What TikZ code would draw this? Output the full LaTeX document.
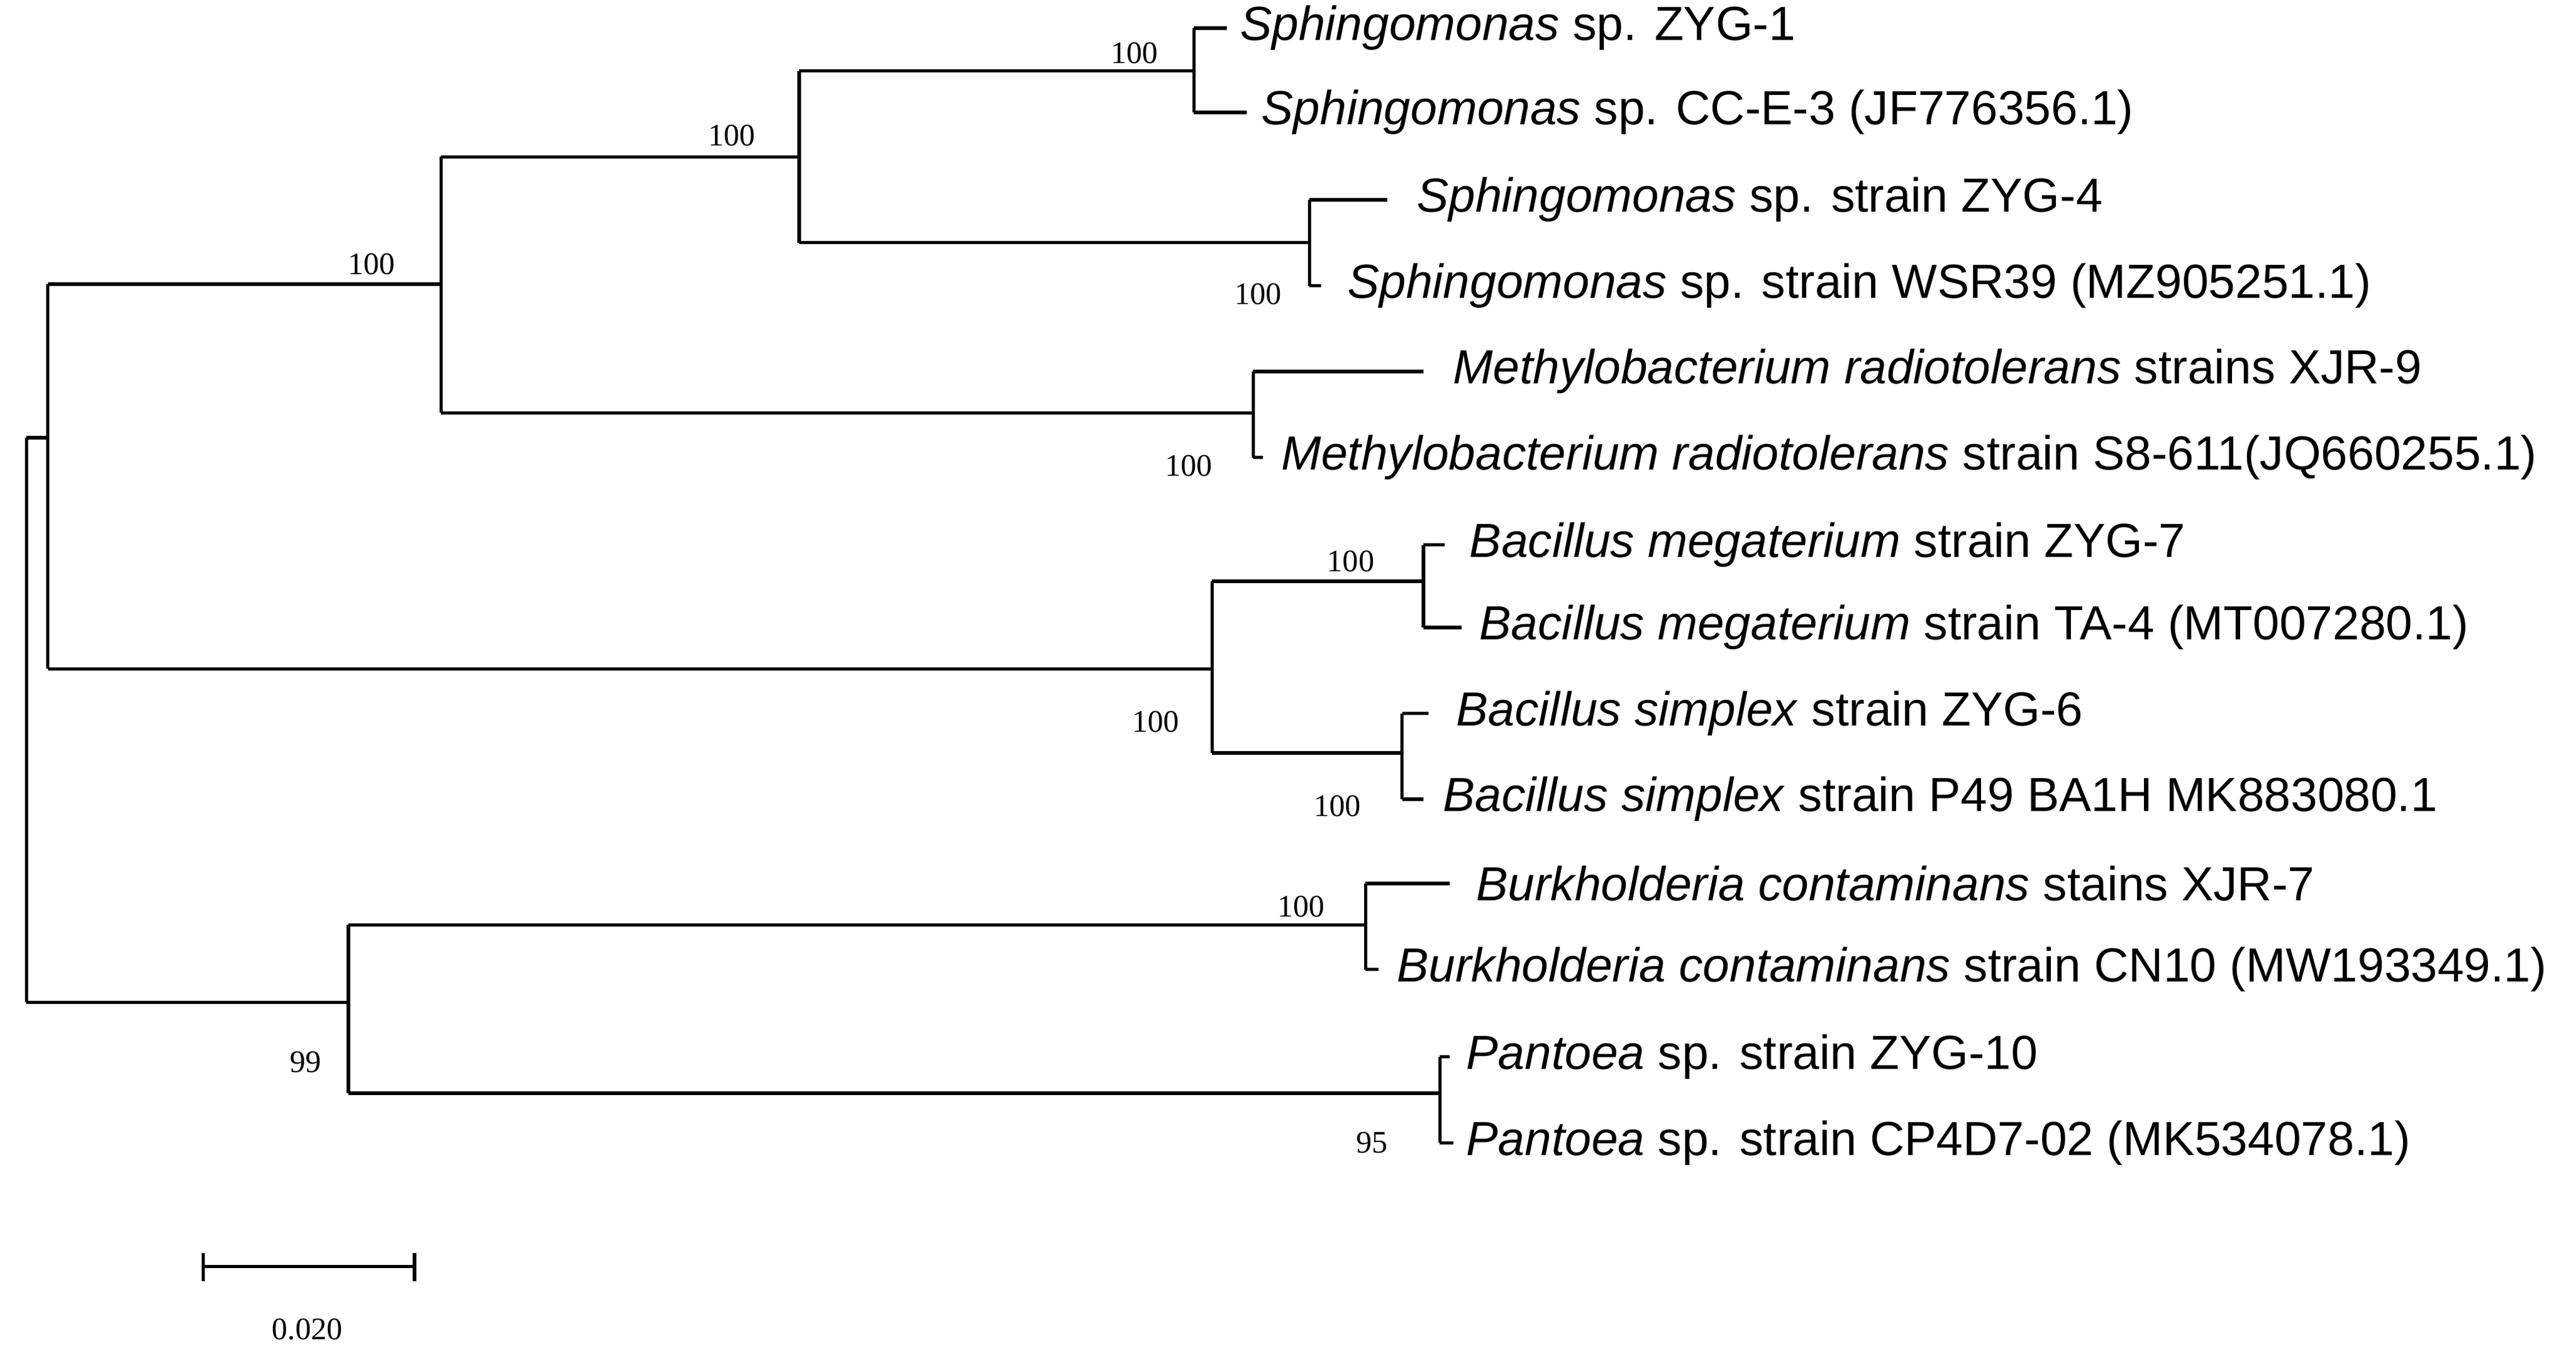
\documentclass[tikz,border=0pt]{standalone}
\usepackage{fontspec}
\setmainfont{Liberation Sans}
\newfontfamily\tnr{Liberation Serif}
\begin{document}
\begin{tikzpicture}[x=1pt,y=-1pt,line width=2pt,
  leaf/.style={anchor=west,inner sep=0pt,font=\fontsize{29}{32}\selectfont},
  boot/.style={inner sep=0pt,font=\tnr\fontsize{19}{22}\selectfont}]
\useasboundingbox (0,0) rectangle (1560,822);
% root
\draw (16,265) -- (16,607);
\draw (16,265) -- (29,265);
\draw (29,172) -- (29,405);
\draw (16,607) -- (211,607);
% Upper clade
\draw (29,172) -- (267,172);
\draw (267,95) -- (267,250);
\node[boot] at (225,160) {100};
\draw (267,95) -- (484,95);
\draw (484,43) -- (484,147);
\node[boot] at (443,82) {100};
\draw (484,43) -- (723,43);
\draw (723,17) -- (723,68);
\node[boot] at (687,32) {100};
\draw (723,17) -- (743,17);
\draw (723,68) -- (755,68);
\node[leaf] (l1) at (750,17) {\textit{Sphingomonas} sp. ZYG-1};
\node[leaf] (l2) at (763,68) {\textit{Sphingomonas} sp. CC-E-3 (JF776356.1)};
\draw (484,147) -- (793,147);
\draw (793,121) -- (793,173);
\node[boot] at (762,178) {100};
\draw (793,121) -- (840,121);
\draw (793,173) -- (800,173);
\node[leaf] (l3) at (857,121) {\textit{Sphingomonas} sp. strain ZYG-4};
\node[leaf] (l4) at (815,173) {\textit{Sphingomonas} sp. strain WSR39 (MZ905251.1)};
\draw (267,250) -- (759,250);
\draw (759,225) -- (759,277);
\node[boot] at (720,282) {100};
\draw (759,225) -- (862,225);
\draw (759,277) -- (765,277);
\node[leaf] (l5) at (879,225) {\textit{Methylobacterium radiotolerans} strains XJR-9};
\node[leaf] (l6) at (775,277) {\textit{Methylobacterium radiotolerans} strain S8-611(JQ660255.1)};
% Bacillus
\draw (29,405) -- (734,405);
\draw (734,352) -- (734,456);
\node[boot] at (700,437) {100};
\draw (734,352) -- (862,352);
\draw (862,330) -- (862,380);
\node[boot] at (818,340) {100};
\draw (862,330) -- (875,330);
\draw (862,380) -- (885,380);
\node[leaf] (l7) at (889,330) {\textit{Bacillus megaterium} strain ZYG-7};
\node[leaf] (l8) at (895,380) {\textit{Bacillus megaterium} strain TA-4 (MT007280.1)};
\draw (734,456) -- (849,456);
\draw (849,432) -- (849,484);
\node[boot] at (810,488) {100};
\draw (849,432) -- (865,432);
\draw (849,484) -- (862,484);
\node[leaf] (l9) at (881,432) {\textit{Bacillus simplex} strain ZYG-6};
\node[leaf] (l10) at (873,484) {\textit{Bacillus simplex} strain P49 BA1H MK883080.1};
% Lower clade
\draw (211,560) -- (211,662);
\node[boot] at (185,643) {99};
\draw (211,560) -- (827,560);
\draw (827,535) -- (827,587);
\node[boot] at (788,549) {100};
\draw (827,535) -- (878,535);
\draw (827,587) -- (835,587);
\node[leaf] (l11) at (893,535) {\textit{Burkholderia contaminans} stains XJR-7};
\node[leaf] (l12) at (845,587) {\textit{Burkholderia contaminans} strain CN10 (MW193349.1)};
\draw (211,662) -- (872,662);
\draw (872,640) -- (872,692);
\node[boot] at (831,692) {95};
\draw (872,640) -- (878,640);
\draw (872,692) -- (880,692);
\node[leaf] (l13) at (887,640) {\textit{Pantoea} sp. strain ZYG-10};
\node[leaf] (l14) at (887,692) {\textit{Pantoea} sp. strain CP4D7-02 (MK534078.1)};
% scale bar
\draw (123,767) -- (251,767);
\draw (123,759) -- (123,776);
\draw (251,759) -- (251,776);
\node[boot] (sb) at (186,805) {0.020};
\end{tikzpicture}
\end{document}
